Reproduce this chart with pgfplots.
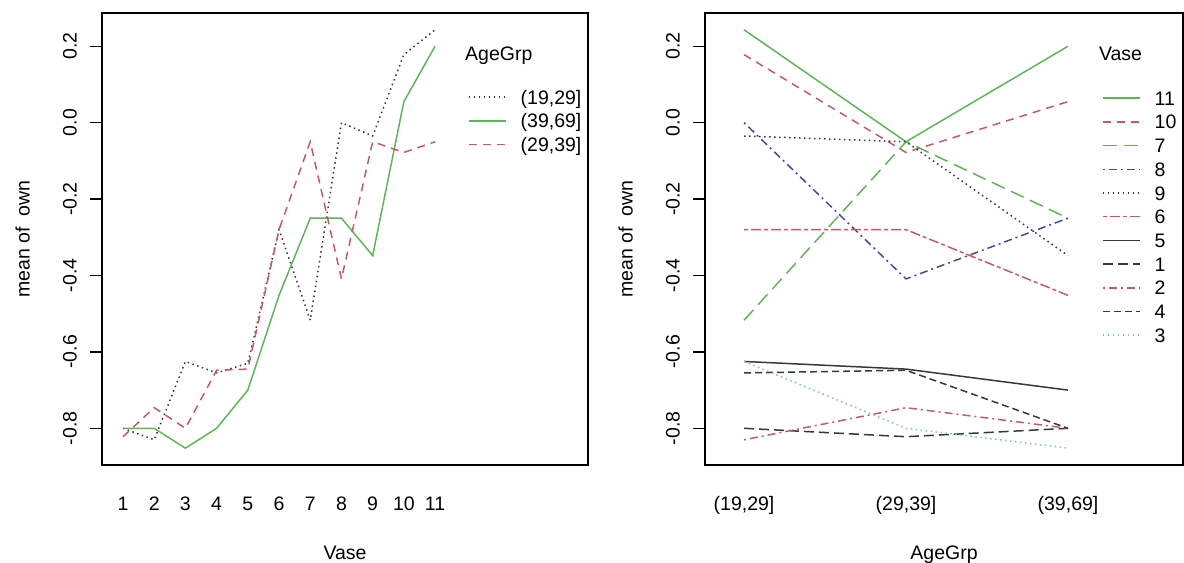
\documentclass[border=0pt]{standalone}
\usepackage{fontspec}
\setmainfont{Liberation Sans}
\usepackage{pgfplots}
\pgfplotsset{compat=1.18}

\definecolor{rgreen}{RGB}{95,180,90}
\definecolor{rred}{RGB}{195,90,105}
\definecolor{rblue}{RGB}{70,70,160}
\definecolor{rteal}{RGB}{120,195,180}
\definecolor{rdark}{RGB}{55,55,65}

\newcommand{\rfont}{\fontsize{19.5bp}{23bp}\selectfont}

\pgfplotsset{
  rpanel/.style={
    scale only axis, anchor=south west,
    height=452bp,
    ymin=-0.896, ymax=0.287,
    ytick={-0.8,-0.6,-0.4,-0.2,0,0.2},
    yticklabels={-0.8,-0.6,-0.4,-0.2,0.0,0.2},
    axis line style={line width=2bp, black},
    tick align=outside, major tick length=12bp,
    tick pos=left,
    ytick style={line width=1.3bp, black},
    xtick style={draw=none},
    tick label style={font=\rfont},
    yticklabel style={rotate=90, anchor=south, inner sep=0pt},
    yticklabel shift=13bp,
    xticklabel style={anchor=base, inner sep=0pt},
    xticklabel shift=33bp,
    ylabel={mean of\ \ own},
    every axis y label/.style={rotate=90, anchor=south, inner sep=0pt, font=\rfont},
    every axis x label/.style={at={(axis description cs:0.5,0)}, anchor=base, inner sep=0pt, yshift=-94bp, font=\rfont},
    legend style={draw=none, fill=none, inner sep=0pt, font=\rfont,
      cells={anchor=west},
      nodes={inner sep=0pt, text height=14bp, text depth=0bp},
      row sep=9.7bp, column sep=14bp, anchor=north west},
    legend image code/.code={\draw[#1] (0bp,0bp) -- (37bp,0bp);},
    every axis plot/.append style={no marks, line width=1.5bp},
  },
  rdot/.style={dash pattern=on 1.5bp off 3.5bp},
  rdash/.style={dash pattern=on 8bp off 6bp},
  rlong/.style={dash pattern=on 14bp off 7bp},
  rdashdot/.style={dash pattern=on 2bp off 4bp on 8bp off 4bp},
  rtwo/.style={dash pattern=on 4bp off 3bp on 10bp off 3bp},
  rdash1/.style={dash pattern=on 10bp off 5bp},
  rdash4/.style={dash pattern=on 7bp off 4bp},
}

\begin{document}
\begin{tikzpicture}
\useasboundingbox (0bp,0bp) rectangle (1184bp,563bp);

% left panel: x = Vase, traces = AgeGrp
\begin{axis}[rpanel, at={(102bp,98bp)}, width=486bp,
  xmin=0.327, xmax=15.9,
  xtick={1,2,3,4,5,6,7,8,9,10,11},
  xticklabels={1,2,3,4,5,6,7,8,9,10,11},
  xlabel={Vase},
  ylabel style={at={(axis description cs:-0.148,0.5)}},
  legend style={at={(axis description cs:0.753,0.8296)}}]
\addplot[rdark, rdot] coordinates {(1,-0.80) (2,-0.83) (3,-0.625) (4,-0.655) (5,-0.63) (6,-0.28) (7,-0.517) (8,0.0) (9,-0.035) (10,0.178) (11,0.243)};
\addlegendentry{(19,29]}
\addplot[rgreen] coordinates {(1,-0.80) (2,-0.80) (3,-0.852) (4,-0.80) (5,-0.70) (6,-0.452) (7,-0.25) (8,-0.25) (9,-0.348) (10,0.055) (11,0.20)};
\addlegendentry{(39,69]}
\addplot[rred, rdash] coordinates {(1,-0.822) (2,-0.746) (3,-0.80) (4,-0.648) (5,-0.645) (6,-0.28) (7,-0.05) (8,-0.409) (9,-0.05) (10,-0.078) (11,-0.05)};
\addlegendentry{(29,39]}
\node[anchor=base west, inner sep=0pt, font=\rfont] at (axis description cs:0.747,0.8938) {AgeGrp};
\end{axis}

% right panel: x = AgeGrp, traces = Vase
\begin{axis}[rpanel, at={(705bp,98bp)}, width=478bp,
  xmin=0.759, xmax=3.71,
  xtick={1,2,3},
  xticklabels={{(19,29]},{(29,39]},{(39,69]}},
  xlabel={AgeGrp},
  ylabel style={at={(axis description cs:-0.1506,0.5)}},
  legend style={at={(axis description cs:0.8305,0.8274)}}]
\addplot[rgreen] coordinates {(1,0.243) (2,-0.05) (3,0.20)};
\addlegendentry{11}
\addplot[rred, rdash] coordinates {(1,0.178) (2,-0.078) (3,0.055)};
\addlegendentry{10}
\addplot[rgreen, rlong] coordinates {(1,-0.517) (2,-0.05) (3,-0.25)};
\addlegendentry{7}
\addplot[rblue, rdashdot] coordinates {(1,0.0) (2,-0.409) (3,-0.25)};
\addlegendentry{8}
\addplot[rdark, rdot] coordinates {(1,-0.035) (2,-0.05) (3,-0.348)};
\addlegendentry{9}
\addplot[rred, rtwo] coordinates {(1,-0.28) (2,-0.28) (3,-0.452)};
\addlegendentry{6}
\addplot[rdark] coordinates {(1,-0.625) (2,-0.645) (3,-0.70)};
\addlegendentry{5}
\addplot[rdark, rdash1] coordinates {(1,-0.80) (2,-0.822) (3,-0.80)};
\addlegendentry{1}
\addplot[rred, rdashdot] coordinates {(1,-0.83) (2,-0.746) (3,-0.80)};
\addlegendentry{2}
\addplot[rdark, rdash4] coordinates {(1,-0.655) (2,-0.648) (3,-0.80)};
\addlegendentry{4}
\addplot[rteal, rdot] coordinates {(1,-0.625) (2,-0.80) (3,-0.852)};
\addlegendentry{3}
\node[anchor=base west, inner sep=0pt, font=\rfont] at (axis description cs:0.824,0.896) {Vase};
\end{axis}
\end{tikzpicture}
\end{document}
